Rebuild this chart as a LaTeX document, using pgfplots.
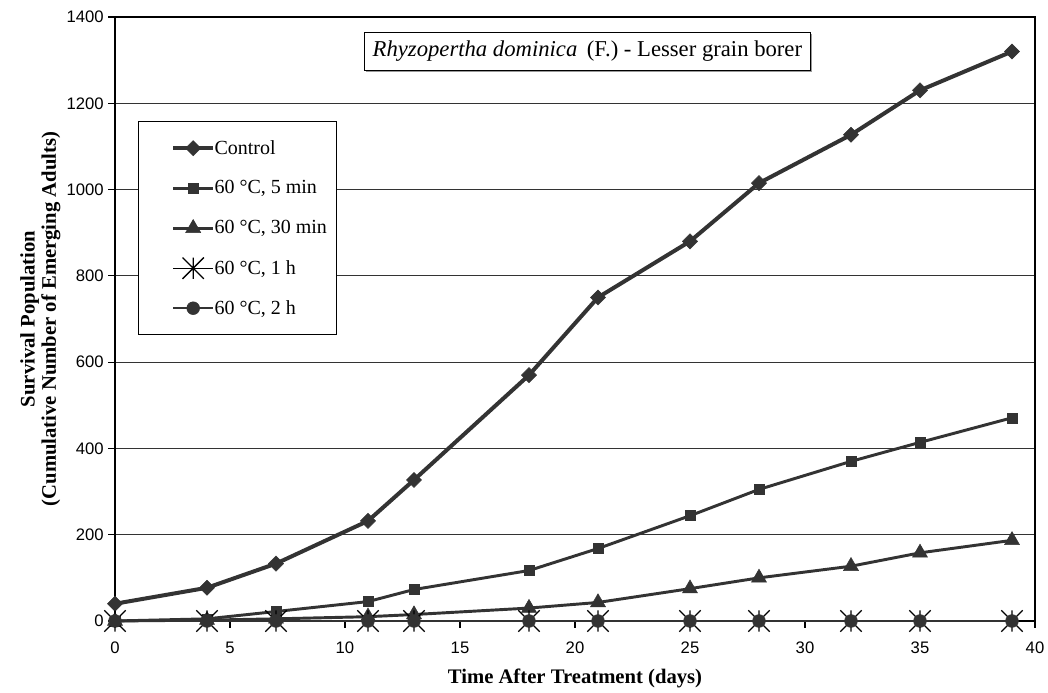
\documentclass[border=0pt]{standalone}
\usepackage{fontspec}
\setmainfont{Liberation Serif}
\newfontfamily\arialfont{Liberation Sans}
\usepackage{pgfplots}
\usepackage{pgfplotstable}
\pgfplotsset{compat=1.18}
\usetikzlibrary{shadows}
\definecolor{dk}{HTML}{333333}

\pgfdeclareplotmark{xstar}{%
  \pgfpathmoveto{\pgfqpoint{-\pgfplotmarksize}{-\pgfplotmarksize}}%
  \pgfpathlineto{\pgfqpoint{\pgfplotmarksize}{\pgfplotmarksize}}%
  \pgfpathmoveto{\pgfqpoint{-\pgfplotmarksize}{\pgfplotmarksize}}%
  \pgfpathlineto{\pgfqpoint{\pgfplotmarksize}{-\pgfplotmarksize}}%
  \pgfpathmoveto{\pgfqpoint{0pt}{-\pgfplotmarksize}}%
  \pgfpathlineto{\pgfqpoint{0pt}{\pgfplotmarksize}}%
  \pgfusepathqstroke}

\pgfplotstableread{
day ctrl m5 m30 h1 h2
0 40 0 0 0 0
4 77 5 2 0 0
7 133 22 5 0 0
11 232 45 10 0 0
13 327 73 15 0 0
18 570 117 30 0 0
21 750 168 43 0 0
25 880 244 75 0 0
28 1015 305 100 0 0
32 1127 370 127 0 0
35 1230 414 158 0 0
39 1320 471 187 0 0
}\data

\begin{document}
\begin{tikzpicture}
\begin{axis}[
  scale only axis, width=690pt, height=453pt,
  xmin=0, xmax=40, ymin=0, ymax=1400,
  xtick={0,5,...,40}, ytick={0,200,...,1400},
  xtick pos=lower, ytick pos=left,
  ymajorgrids, grid style={black!80, line width=0.6pt},
  tick align=outside, major tick length=5pt,
  axis line style={black, line width=0.8pt},
  tick style={black, line width=0.8pt},
  ticklabel style={font=\arialfont\fontsize{12.5}{14}\selectfont},
  xticklabel style={yshift=-7pt},
  /pgf/number format/assume math mode=true,
  /pgf/number format/1000 sep={},
  clip=false,
  xlabel={Time After Treatment (days)},
  xlabel style={at={(axis description cs:0.5,-0.095)}, anchor=center, font=\bfseries\fontsize{15.5}{18}\selectfont},
  ylabel={Survival Population\\(Cumulative Number of Emerging Adults)},
  ylabel style={at={(axis description cs:-0.0812,0.5)}, anchor=center, align=center, font=\bfseries\fontsize{15.5}{16}\selectfont},
  legend style={at={(axis description cs:0,1)}, anchor=north west, xshift=17.25pt, yshift=-78pt,
    draw=black, line width=0.8pt, fill=white, inner xsep=6pt, inner ysep=11pt, row sep=12pt,
    font=\fontsize{15}{18}\selectfont, nodes={inner sep=1pt}, cells={anchor=west}},
  legend image code/.code={%
    \pgfpathrectangle{\pgfqpoint{-20pt}{-9pt}}{\pgfqpoint{50pt}{18pt}}\pgfusepath{use as bounding box}%
    \draw[mark repeat=2,mark phase=2] plot coordinates {(0pt,0pt)(15pt,0pt)(30pt,0pt)};},
]
\addplot[color=dk, line width=3pt, mark=square*, mark size=4pt,
  mark options={rotate=45, solid, fill=dk, line width=0.4pt}] table[x=day,y=ctrl]{\data};
\addlegendentry{Control}
\addplot[color=dk, line width=2.2pt, mark=square*, mark size=3.75pt,
  mark options={solid, fill=dk, line width=0.4pt}] table[x=day,y=m5]{\data};
\addlegendentry{60 °C, 5 min}
\addplot[color=dk, line width=2.2pt, mark=triangle*, mark size=6.5pt,
  mark options={solid, fill=dk, line width=0.4pt}] table[x=day,y=m30]{\data};
\addlegendentry{60 °C, 30 min}
\addplot[color=black, line width=1pt, mark=xstar, mark size=8pt,
  mark options={solid, line width=1pt}] table[x=day,y=h1]{\data};
\addlegendentry{60 °C, 1 h}
\addplot[color=dk, line width=1.2pt, mark=*, mark size=4.8pt,
  mark options={solid, fill=dk, line width=0.4pt}] table[x=day,y=h2]{\data};
\addlegendentry{60 °C, 2 h}
\node[draw=black, line width=0.8pt, fill=white,
  drop shadow={shadow xshift=1.2pt, shadow yshift=-1.2pt, fill=gray, opacity=0.8},
  minimum width=335pt, minimum height=28.5pt, inner sep=0pt,
  font=\fontsize{17}{20}\selectfont] at (axis cs:20.54,1321)
  {\textit{Rhyzopertha dominica}\, (F.) - Lesser grain borer};
\end{axis}
\pgfresetboundingbox
\path ([xshift=-86.25pt,yshift=-53.25pt]current axis.south west) rectangle ([xshift=9.75pt,yshift=12.75pt]current axis.north east);
\end{tikzpicture}
\end{document}
